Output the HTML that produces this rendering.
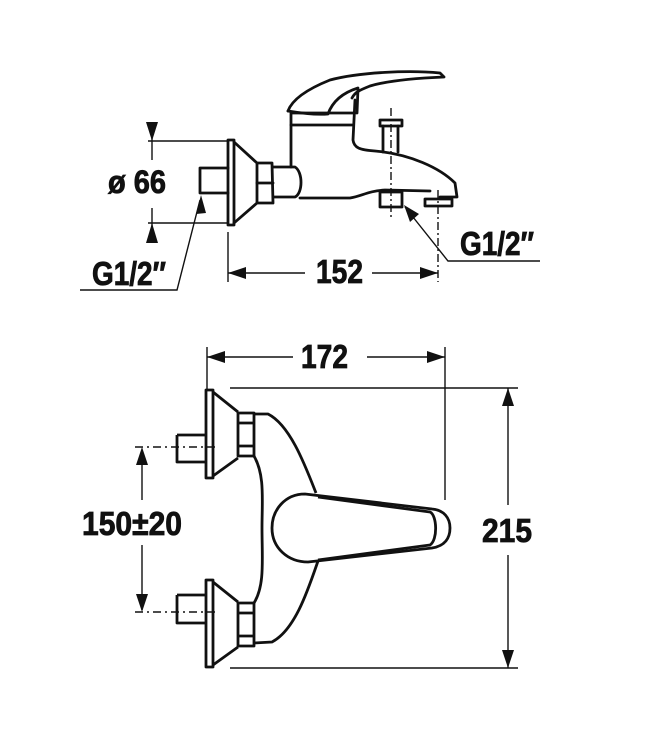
<!DOCTYPE html>
<html><head><meta charset="utf-8"><style>
html,body{margin:0;padding:0;background:#fff;}
svg{display:block;}
text{font-family:"Liberation Sans",sans-serif;font-weight:bold;fill:#111;stroke:#111;stroke-width:0.8;}
</style></head><body>
<svg width="664" height="745" viewBox="0 0 664 745" xmlns="http://www.w3.org/2000/svg">
<g fill="none" stroke="#111" stroke-width="2.8" stroke-linejoin="round" stroke-linecap="round">
<!-- TOP VIEW -->
<path d="M288,111 C292,100 305,90 330,80 C360,72 410,70 440,73 L444,77 C420,78 390,80 370,86 C360,90 355,92 352,98"/>
<path d="M288,111 C300,113 315,115 328,114 C333,100 345,92 358,88 L357,113"/>
<path d="M291,167 L291,113 L355,113"/>
<path d="M291,125 L352,125"/>
<path d="M355,100 L353,140 C354,148 360,150 375,151 C410,154 440,168 455,183 L457,197 L440,197"/>
<path d="M300,198 L350,198 C362,196 368,191 385,190 L430,191"/>
<path d="M273,167 L295,167 C303,172 303,193 295,197 L273,197"/>
<path d="M257,163 L272,163 L273,203 L257,203 Z"/>
<path d="M257,183 L273,183"/>
<path d="M228,140 L234,140 L234,225 L228,225 Z"/>
<path d="M234,142 L257,163 M234,223 L257,203"/>
<path d="M200,168 L228,168 M200,168 L200,193 L228,193"/>
<path d="M380,120 L402,120 L402,126 L380,126 Z"/>
<path d="M383,126 L383,152 M398,126 L398,152"/>
<path d="M380,192 L402,192 L402,207 L380,207 Z"/>
<path d="M425,199 L452,199 L452,206 L425,206 Z"/>
</g>
<g fill="none" stroke="#111" stroke-width="1.4">
<path d="M391,108 L391,218" stroke-dasharray="8,3,2,3"/>
<path d="M438,190 L438,282" stroke-dasharray="8,3,2,3"/>
<path d="M148,141 L228,141 M148,223 L228,223"/>
<path d="M152,128 L152,160 M152,208 L152,237"/>
<path d="M228,232 L228,282 M228,273 L305,273 M372,273 L438,273"/>
<path d="M200,200 L177,290 L80,290"/>
<path d="M405,207 L448,261 L540,261"/>
<path d="M207,347 L207,390 M445,347 L445,500 M207,357 L293,357 M367,357 L445,357"/>
<path d="M230,388 L518,388 M230,668 L518,668 M508,388 L508,505 M508,555 L508,668"/>
<path d="M142,450 L142,500 M142,545 L142,610"/>
<path d="M135,447 L218,447 M135,612 L218,612" stroke-dasharray="8,4,2,4"/>
</g>
<g fill="#111">
<path d="M146,122 L158,122 L152,141 Z"/>
<path d="M146,243 L158,243 L152,223 Z"/>
<path d="M228,273 L246,267 L246,279 Z"/>
<path d="M438,273 L420,267 L420,279 Z"/>
<path d="M201,195 L196,214 L206,213 Z"/>
<path d="M404,205 L410,222 L419,214 Z"/>
<path d="M207,357 L225,351 L225,363 Z"/>
<path d="M445,357 L427,351 L427,363 Z"/>
<path d="M508,388 L502,406 L514,406 Z"/>
<path d="M508,668 L502,650 L514,650 Z"/>
<path d="M142,447 L136,465 L148,465 Z"/>
<path d="M142,612 L136,594 L148,594 Z"/>
</g>
<g fill="none" stroke="#111" stroke-width="2.8" stroke-linejoin="round">
<path d="M206,390 L213,390 L213,478 L206,478 Z"/>
<path d="M213,392 L238,412 M213,476 L238,458"/>
<path d="M238,413 L254,413 L254,456 L238,456 Z M238,423 L254,423 M238,446 L254,446"/>
<path d="M177,435 L206,435 M177,435 L177,462 L206,462"/>
<path d="M206,580 L213,580 L213,667 L206,667 Z"/>
<path d="M213,582 L238,602 M213,665 L238,647"/>
<path d="M238,603 L254,603 L254,646 L238,646 Z M238,613 L254,613 M238,636 L254,636"/>
<path d="M177,595 L206,595 M177,595 L177,623 L206,623"/>
<path d="M254,414 L268,414 C290,425 305,465 316,493"/>
<path d="M254,456 C265,475 262,500 262,528 C262,560 265,585 254,603"/>
<path d="M318,561 C308,590 295,630 272,642 L254,643"/>
<path d="M305,494 C285,494 272,510 272,528 C272,548 288,562 308,562 L432,548 C445,546 450,538 450,528 C450,518 444,510 432,509 Z" fill="#fff"/>
<path d="M318,497 L430,512 C437,515 438,540 430,545 L318,560"/>
</g>
<text x="108" y="193" font-size="32" textLength="58" lengthAdjust="spacingAndGlyphs">ø 66</text>
<text x="92" y="285" font-size="33" textLength="74" lengthAdjust="spacingAndGlyphs">G1/2″</text>
<text x="460" y="255" font-size="33" textLength="74" lengthAdjust="spacingAndGlyphs">G1/2″</text>
<text x="316" y="283" font-size="33" textLength="47" lengthAdjust="spacingAndGlyphs">152</text>
<text x="301" y="368" font-size="33" textLength="47" lengthAdjust="spacingAndGlyphs">172</text>
<text x="482" y="542" font-size="33" textLength="50" lengthAdjust="spacingAndGlyphs">215</text>
<text x="82" y="535" font-size="33" textLength="100" lengthAdjust="spacingAndGlyphs">150±20</text>
</svg>
</body></html>
